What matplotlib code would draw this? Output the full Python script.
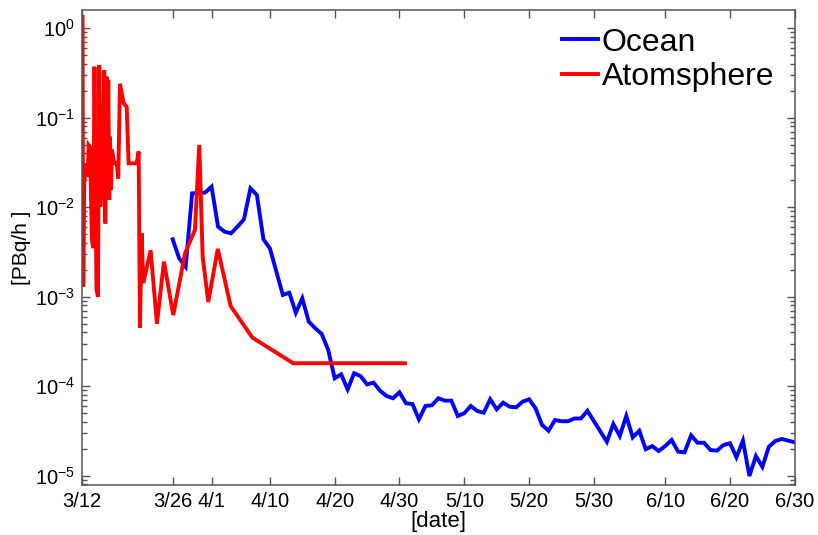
import numpy as np
import pandas as pd
import matplotlib
matplotlib.use("Agg")
import matplotlib.pyplot as plt

plt.rcParams['font.family'] = ['Liberation Sans', 'DejaVu Sans']
plt.rcParams['mathtext.default'] = 'regular'

start = pd.Timestamp("2011-03-12")

# Ocean release rate, daily (days after 3/12, PBq/h)
ocean_days = [14, 15, 16, 17, 19, 20, 21, 22, 23, 24, 25, 26, 27, 28, 29, 30,
              31, 32, 33, 34, 35, 36, 37, 38, 39, 40, 41, 42, 43, 44, 45, 46,
              47, 48, 49, 50, 51, 52, 53, 54, 55, 56, 57, 58, 59, 60, 61, 62,
              63, 64, 65, 66, 67, 68, 69, 70, 71, 72, 73, 74, 75, 76, 77, 78,
              81, 82, 83, 84, 85, 86, 87, 88, 89, 90, 91, 92, 93, 94, 95, 96,
              97, 98, 99, 100, 101, 102, 103, 104, 105, 106, 107, 108, 109, 110]
ocean_vals = [4.39e-3, 2.69e-3, 2.17e-3, 1.43e-2, 1.46e-2, 1.70e-2, 6.07e-3, 5.35e-3,
              5.12e-3, 6.07e-3, 7.35e-3, 1.63e-2, 1.37e-2, 4.39e-3, 3.48e-3, 1.91e-3,
              1.05e-3, 1.11e-3, 6.64e-4, 9.62e-4, 5.27e-4, 4.45e-4, 3.84e-4, 2.55e-4,
              1.23e-4, 1.36e-4, 9.25e-5, 1.40e-4, 1.30e-4, 1.05e-4, 1.10e-4, 8.93e-5,
              7.80e-5, 7.35e-5, 8.57e-5, 6.46e-5, 6.34e-5, 4.28e-5, 6.03e-5, 6.14e-5,
              7.35e-5, 6.92e-5, 6.92e-5, 4.66e-5, 5.01e-5, 6.03e-5, 5.30e-5, 5.07e-5,
              7.16e-5, 5.53e-5, 6.56e-5, 5.92e-5, 5.82e-5, 6.73e-5, 7.16e-5, 5.68e-5,
              3.70e-5, 3.19e-5, 4.20e-5, 4.07e-5, 4.07e-5, 4.37e-5, 4.37e-5, 5.33e-5,
              2.40e-5, 3.79e-5, 2.79e-5, 4.66e-5, 2.69e-5, 3.19e-5, 1.98e-5, 2.15e-5,
              1.89e-5, 2.15e-5, 2.51e-5, 1.86e-5, 1.83e-5, 2.83e-5, 2.34e-5, 2.34e-5,
              1.94e-5, 1.91e-5, 2.21e-5, 2.31e-5, 1.61e-5, 2.47e-5, 9.95e-6, 1.66e-5,
              1.26e-5, 2.11e-5, 2.45e-5, 2.58e-5, 2.47e-5, 2.37e-5]

# Atmosphere release rate (days after 3/12, PBq/h)
atmo_days = [0.0, 0.05, 0.2, 0.35, 0.62, 0.88, 1.03, 1.23, 1.54, 1.74, 1.93, 2.24,
             2.47, 2.67, 2.85, 3.0, 3.13, 3.29, 3.44, 3.6, 3.81, 3.94, 4.06, 4.21,
             4.32, 4.48, 4.63, 4.98, 5.36, 5.6, 5.86, 6.44, 6.9, 7.2, 8.44, 8.75,
             8.95, 9.21, 9.46, 10.6, 11.57, 12.65, 14.09, 15.9, 17.44, 18.1, 18.63,
             19.49, 20.96, 22.94, 26.3, 32.6, 49.85]
atmo_vals = [2.8e-3, 1.41, 1.30e-3, 1.85e-2, 3.1e-2, 2.2e-2, 4.97e-2, 4.75e-2, 4.3e-3,
             3.5e-3, 0.372, 1.19e-3, 1.0e-3, 0.389, 1.02e-2, 0.122, 1.21e-2, 9.4e-2,
             0.342, 6.6e-3, 0.288, 2.0e-2, 0.264, 1.21e-2, 6.15e-2, 1.56e-2, 4.4e-2,
             3.1e-2, 3.1e-2, 2.1e-2, 0.24, 0.145, 0.133, 3.1e-2, 3.1e-2, 4.2e-2,
             4.5e-4, 5.1e-3, 1.42e-3, 3.3e-3, 5.0e-4, 2.47e-3, 6.25e-4, 3.06e-3,
             5.6e-3, 4.97e-2, 2.79e-3, 8.75e-4, 3.42e-3, 7.9e-4, 3.5e-4, 1.81e-4,
             1.81e-4]

tick_dates = ["2011-03-12", "2011-03-26", "2011-04-01", "2011-04-10", "2011-04-20",
              "2011-04-30", "2011-05-10", "2011-05-20", "2011-05-30", "2011-06-10",
              "2011-06-20", "2011-06-30"]
tick_labels = ["3/12", "3/26", "4/1", "4/10", "4/20", "4/30", "5/10", "5/20",
               "5/30", "6/10", "6/20", "6/30"]
ytick_vals = [1e-5, 1e-4, 1e-3, 1e-2, 1e-1, 1e0]
ytick_labels = [r"$10^{-5}$", r"$10^{-4}$", r"$10^{-3}$", r"$10^{-2}$",
                r"$10^{-1}$", r"$10^{0}$"]

ocean_t = start + pd.to_timedelta(ocean_days, unit="D")
atmo_t = start + pd.to_timedelta(atmo_days, unit="D")

fig = plt.figure(figsize=(8.18, 5.35), dpi=100)
ax = fig.add_axes([0.1002, 0.0935, 0.8714, 0.8878])

ax.plot(ocean_t, ocean_vals, color=(0, 0, 1), lw=2.8, label="Ocean",
        solid_joinstyle="miter")
ax.plot(atmo_t, atmo_vals, color=(1, 0, 0), lw=2.8, label="Atomsphere",
        solid_joinstyle="miter")

ax.set_yscale("log")
ax.set_ylim(7.9e-6, 1.6)
ax.set_xlim(pd.Timestamp("2011-03-12"), pd.Timestamp("2011-06-30"))

ax.set_xticks(pd.to_datetime(tick_dates))
ax.set_xticklabels(tick_labels)
ax.set_yticks(ytick_vals)
ax.set_yticklabels(ytick_labels)
ax.yaxis.set_minor_locator(matplotlib.ticker.LogLocator(base=10, subs=np.arange(2, 10)))
ax.yaxis.set_minor_formatter(matplotlib.ticker.NullFormatter())

edge = "#555555"
for s in ax.spines.values():
    s.set_color(edge)
    s.set_linewidth(1.1)
ax.tick_params(axis="both", which="both", direction="in", top=True, right=True,
               color=edge, labelsize=14.5, labelcolor="black")
ax.tick_params(axis="both", which="major", length=6, width=1.0, pad=5)
ax.tick_params(axis="y", which="minor", length=3.5, width=1.0)
ax.tick_params(axis="x", which="minor", length=0)

ax.set_xlabel("[date]", fontsize=16, labelpad=0)
ax.set_ylabel("[PBq/h ]", fontsize=15, labelpad=3)

leg = ax.legend(loc="upper left", bbox_to_anchor=(0.655, 0.99), frameon=False,
                fontsize=23, handlelength=1.15, handletextpad=0.1,
                labelspacing=0.15, borderaxespad=0.0)

fig.savefig("out.png", dpi=100)
